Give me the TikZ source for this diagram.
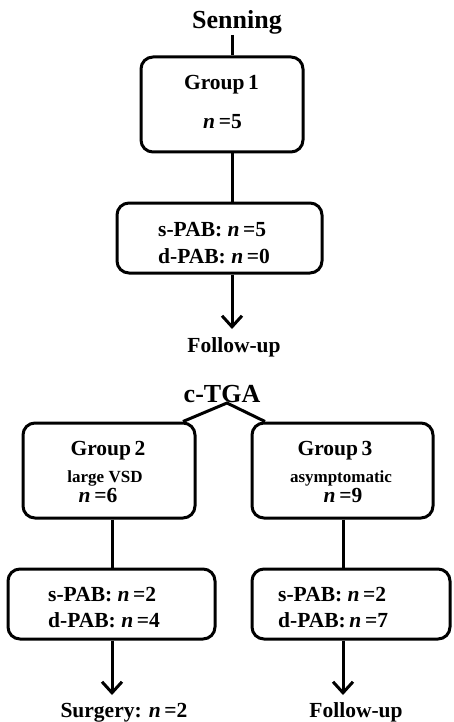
\documentclass[tikz,border=0pt]{standalone}
\usepackage{fontspec}
\setmainfont{Liberation Serif}
\usetikzlibrary{arrows.meta}
\begin{document}
\begin{tikzpicture}[x=1pt,y=-1pt,
  box/.style={draw,line width=3pt,rounded corners=12pt,inner sep=0pt},
  txt/.style={inner sep=0pt,anchor=base,font=\bfseries\fontsize{21.5}{24}\selectfont},
  title/.style={inner sep=0pt,anchor=base,font=\bfseries\fontsize{26}{30}\selectfont},
  sub/.style={inner sep=0pt,anchor=base,font=\bfseries\fontsize{17}{20}\selectfont},
  conn/.style={line width=3pt},
  arr/.style={line width=3pt,-{Straight Barb[length=11pt,width=20pt,line width=3pt]}}
]
\useasboundingbox (0,0) rectangle (453,722);
\newcommand{\nn}{\textit{n}\,=}
% top branch
\node[title] (senning) at (237,29) {Senning};
\node[box,minimum width=162pt,minimum height=95pt] (g1) at (222,104.5) {};
\node[txt] (g1t) at (221.5,90) {Group\,1};
\node[txt] (g1n) at (222.5,129) {\nn5};
\node[box,minimum width=205pt,minimum height=70pt] (b1) at (219.5,238) {};
\node[txt,anchor=base west] (b1s) at (158,236) {s-PAB: \nn5};
\node[txt,anchor=base west] (b1d) at (158,263) {d-PAB: \nn0};
\node[txt] (fu1) at (234,352) {Follow-up};
\coordinate (vx) at (232,0);
\coordinate (ae0) at (232,329);
\draw[conn] (senning.south -| vx) -- (g1.north -| vx);
\draw[conn] (g1.south -| vx) -- (b1.north -| vx);
\draw[arr] (b1.south -| vx) -- (ae0);
% c-TGA
\node[title] (ctga) at (222,402) {c-TGA};
\coordinate (apex) at (227,403);
\node[box,minimum width=172pt,minimum height=95pt] (g2) at (109,470.5) {};
\node[txt] (g2t) at (108,455) {Group\,2};
\node[sub] (g2s) at (105,482) {large VSD};
\node[txt] (g2n) at (98,502) {\nn6};
\node[box,minimum width=181pt,minimum height=95pt] (g3) at (342.5,470.5) {};
\node[txt] (g3t) at (335,455) {Group\,3};
\node[sub] (g3s) at (341,482) {asymptomatic};
\node[txt] (g3n) at (343,502) {\nn9};
\coordinate (wl) at (183,0);
\coordinate (wr) at (265,0);
\draw[conn,line join=miter] (g2.north -| wl) -- (apex) -- (g3.north -| wr);
% lower boxes
\node[box,minimum width=207pt,minimum height=70pt] (b2) at (111.5,604) {};
\node[txt,anchor=base west] (b2s) at (48,601) {s-PAB: \nn2};
\node[txt,anchor=base west] (b2d) at (48,627) {d-PAB: \nn4};
\node[box,minimum width=198pt,minimum height=70pt] (b3) at (351,604) {};
\node[txt,anchor=base west] (b3s) at (278,601) {s-PAB: \nn2};
\node[txt,anchor=base west] (b3d) at (278,627) {d-PAB:\,\nn7};
\node[txt] (surg) at (124,717) {Surgery: \nn2};
\node[txt] (fu2) at (356,717) {Follow-up};
\coordinate (lx) at (112,0);
\coordinate (rx) at (343,0);
\draw[conn] (g2.south -| lx) -- (b2.north -| lx);
\draw[conn] (g3.south -| rx) -- (b3.north -| rx);
\coordinate (ae1) at (112,695);
\coordinate (ae2) at (343,695);
\draw[arr] (b2.south -| lx) -- (ae1);
\draw[arr] (b3.south -| rx) -- (ae2);
\end{tikzpicture}
\end{document}
